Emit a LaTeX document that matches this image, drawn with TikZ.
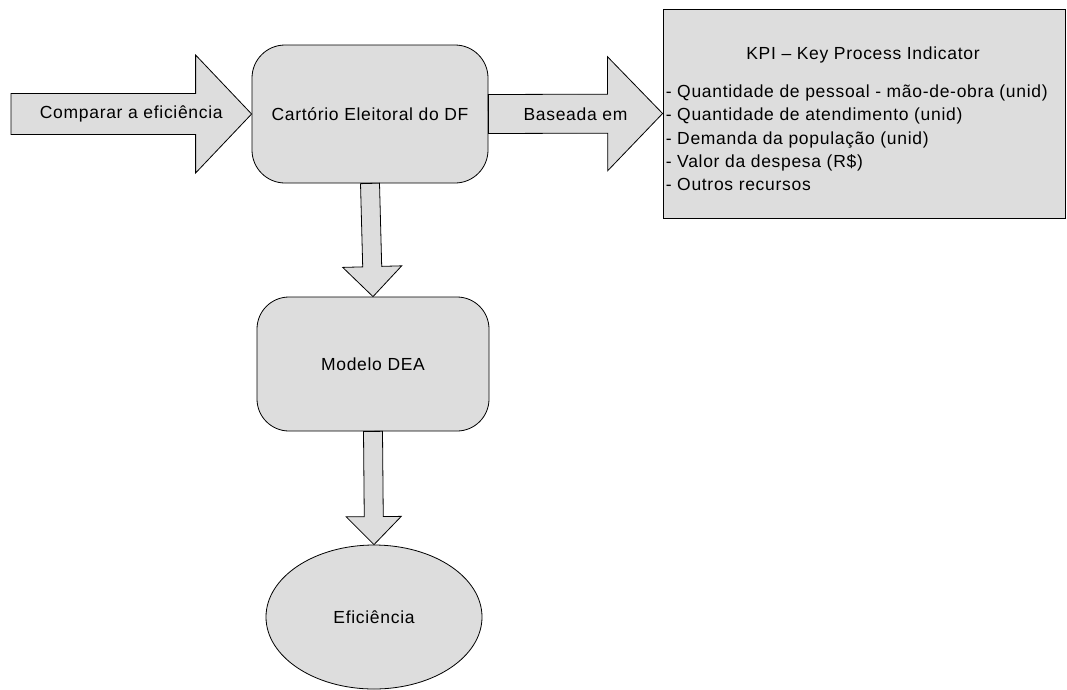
\documentclass[tikz,border=0pt]{standalone}
\usepackage{fontspec}
\setmainfont{Liberation Sans}[LetterSpace=4]
\usetikzlibrary{calc,shapes.geometric}
\definecolor{boxgray}{RGB}{221,221,221}
\tikzset{
  box/.style={draw=black, fill=boxgray, line width=0.8pt, inner sep=0pt},
  arrowbody/.style={draw=black, fill=boxgray, line width=0.8pt, line join=miter},
  txt/.style={font=\fontsize{17.5}{23.3}\selectfont, inner sep=0pt}
}
% fat block arrow: from, to, half shaft, half head, head length
\newcommand{\fatarrow}[5]{%
  \coordinate (headbase) at ($(#2)!#5!(#1)$);
  \draw[arrowbody] ($(#1)!#3!90:(#2)$) -- ($(headbase)!#3!90:(#2)$)
    -- ($(headbase)!#4!90:(#2)$) -- (#2) -- ($(headbase)!#4!-90:(#2)$)
    -- ($(headbase)!#3!-90:(#2)$) -- ($(#1)!#3!-90:(#2)$) -- cycle;
}
\begin{document}
\begin{tikzpicture}[x=1pt, y=-1pt]
  \useasboundingbox (0,0) rectangle (1067,689);
  % main boxes
  \node[box, txt, rounded corners=33pt, minimum width=236pt, minimum height=138pt] (cart) at (370,114) {Cartório Eleitoral do DF};
  \node[box, txt, rounded corners=32pt, minimum width=232pt, minimum height=134pt] (dea) at (373,364) {Modelo DEA};
  \node[box, txt, ellipse, minimum width=216pt, minimum height=144pt] (efic) at (374,617) {Eficiência};
  % indicator box
  \node[box, minimum width=402pt, minimum height=209pt] (kpi) at (864,113.5) {};
  \node[txt, anchor=base] (kpititle) at (863,59.5) {KPI \textendash\ Key Process Indicator};
  \foreach \item [count=\i] in {- Quantidade de pessoal - mão-de-obra (unid),
      - Quantidade de atendimento (unid), - Demanda da população (unid),
      - Valor da despesa (R\$), - Outros recursos}
    \node[txt, anchor=base west] (kpiline\i) at ($(kpi.north west)+(3,{89+23.3*(\i-1)})$) {\item};
  % block arrows
  \coordinate (src) at (11,114);
  \fatarrow{src}{cart.west}{20.5pt}{59pt}{56pt}
  \fatarrow{cart.east}{kpi.west}{19.5pt}{57pt}{55pt}
  \fatarrow{cart.south}{dea.north}{9.5pt}{29.5pt}{30pt}
  \fatarrow{dea.south}{efic.north}{9.5pt}{27.5pt}{28pt}
  % arrow labels
  \node[txt] (lblcmp) at ($(src)!0.5!(cart.west)$) {Comparar a eficiência};
  \node[txt] (lblbase) at ($(cart.east)!0.5!(kpi.west)$) {Baseada em};
\end{tikzpicture}
\end{document}
